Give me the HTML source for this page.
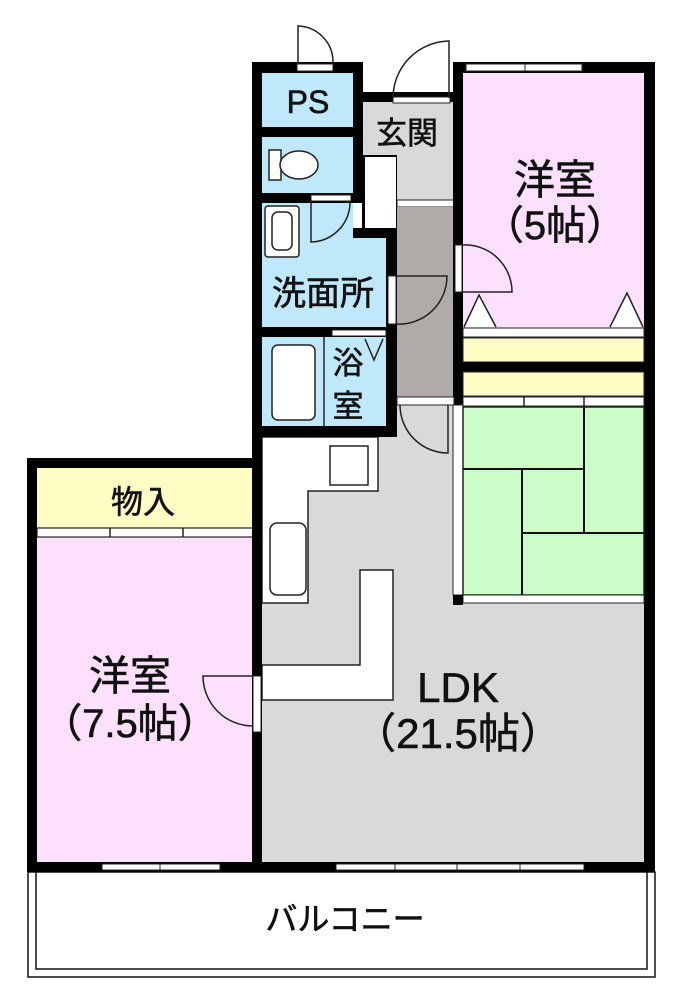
<!DOCTYPE html>
<html><head><meta charset="utf-8"><style>
html,body{margin:0;padding:0;background:#fff;width:682px;height:1000px;overflow:hidden}
text{font-family:"Liberation Sans","Noto Sans CJK JP",sans-serif;fill:#111;text-anchor:middle}
</style></head><body>
<svg width="682" height="1000" viewBox="0 0 682 1000" xmlns="http://www.w3.org/2000/svg">
<rect x="28" y="872" width="627" height="105" fill="#fff" stroke="#111" stroke-width="1.5"/>
<rect x="36" y="872" width="611" height="97" fill="#fff" stroke="#111" stroke-width="1.5"/>
<rect x="262" y="405" width="382" height="458" fill="#d9d9d9"/>
<path d="M262 437 H378 V491 H308 V603 H262 Z" fill="#fff" stroke="#222" stroke-width="1.5"/>
<rect x="330" y="446" width="38" height="39" fill="#fff" stroke="#222" stroke-width="1.5"/>
<rect x="270" y="523" width="36" height="72" rx="7" fill="#fff" stroke="#222" stroke-width="1.5"/>
<path d="M262 665 H360 V570 H393 V700 H262 Z" fill="#fff" stroke="#222" stroke-width="1.5"/>
<rect x="37" y="468" width="216" height="60" fill="#fffcc4"/>
<rect x="37" y="537" width="216" height="326" fill="#fde0fc"/>
<rect x="37" y="528" width="216" height="9" fill="#fff" stroke="#222" stroke-width="1.2"/>
<line x1="110" y1="528" x2="110" y2="537" stroke="#222" stroke-width="1.5"/>
<line x1="183" y1="528" x2="183" y2="537" stroke="#222" stroke-width="1.5"/>
<rect x="27" y="458" width="235" height="10" fill="#000"/>
<rect x="27" y="458" width="10" height="414" fill="#000"/>
<rect x="252" y="62" width="10" height="810" fill="#000"/>
<rect x="27" y="862" width="628" height="10" fill="#000"/>
<rect x="102" y="864" width="118" height="6" fill="#fff" stroke="#222" stroke-width="1"/>
<line x1="160" y1="864" x2="160" y2="870" stroke="#222"/>
<rect x="336" y="864" width="248" height="6" fill="#fff" stroke="#222" stroke-width="1"/>
<line x1="395" y1="864" x2="395" y2="870" stroke="#222"/>
<line x1="457" y1="864" x2="457" y2="870" stroke="#222"/>
<line x1="520" y1="864" x2="520" y2="870" stroke="#222"/>
<rect x="253" y="676" width="8" height="56" fill="#fff" stroke="#222" stroke-width="1"/>
<path d="M253 676 H203 A50 50 0 0 0 253 726" fill="none" stroke="#222" stroke-width="1.5"/>
<rect x="262" y="73" width="92" height="55" fill="#bfe8fb"/>
<rect x="262" y="137" width="92" height="57" fill="#bfe8fb"/>
<path d="M262 203 H353 V238 H386 V327 H262 Z" fill="#bfe8fb"/>
<rect x="262" y="337" width="124" height="89" fill="#bfe8fb"/>
<rect x="252" y="62" width="110" height="11" fill="#000"/>
<rect x="297" y="64" width="36" height="7" fill="#fff" stroke="#222"/>
<path d="M298 64 V26 A36 36 0 0 1 333 62" fill="none" stroke="#222" stroke-width="1.5"/>
<rect x="353" y="62" width="10" height="140" fill="#000"/>
<rect x="252" y="127" width="110" height="10" fill="#000"/>
<rect x="252" y="193" width="110" height="10" fill="#000"/>
<rect x="311" y="195" width="40" height="6" fill="#fff" stroke="#222"/>
<path d="M311 201 V242 A40 40 0 0 0 350 203" fill="none" stroke="#222" stroke-width="1.5"/>
<rect x="269" y="150" width="12" height="30" fill="#fff" stroke="#222" stroke-width="1.5"/>
<ellipse cx="299" cy="165" rx="19" ry="14" fill="#fff" stroke="#222" stroke-width="1.5"/>
<rect x="265" y="206" width="34" height="51" rx="3" fill="#fff" stroke="#222" stroke-width="1.5"/>
<rect x="272" y="212" width="20" height="38" rx="6" fill="#fff" stroke="#222" stroke-width="1.5"/>
<!-- genkan -->
<rect x="363" y="100" width="91" height="100" fill="#d9d9d9"/>
<rect x="397" y="200" width="57" height="7" fill="#fff" stroke="#222"/>
<rect x="397" y="207" width="57" height="190" fill="#b0aaa9"/>
<rect x="353" y="92" width="101" height="10" fill="#000"/>
<rect x="393" y="97" width="57" height="6" fill="#fff" stroke="#222"/>
<path d="M393 98 A57 57 0 0 1 449 41 V98" fill="none" stroke="#222" stroke-width="1.5"/>
<!-- white box -->
<rect x="362" y="155" width="35" height="74" fill="#000"/>
<rect x="365" y="157" width="31" height="71" fill="#fff"/>
<rect x="386" y="228" width="11" height="209" fill="#000"/>
<rect x="353" y="228" width="44" height="10" fill="#000"/>
<rect x="252" y="327" width="145" height="10" fill="#000"/>
<rect x="332" y="330" width="54" height="6" fill="#fff" stroke="#222"/>
<rect x="252" y="426" width="145" height="11" fill="#000"/>
<rect x="272" y="345" width="43" height="75" rx="6" fill="#fff" stroke="#222" stroke-width="1.5"/>
<line x1="324" y1="337" x2="324" y2="426" stroke="#222" stroke-width="1.5"/>
<path d="M365 339 L374 360 L383 339" fill="none" stroke="#222" stroke-width="1.5"/>
<rect x="388" y="276" width="8" height="48" fill="#fff" stroke="#222"/>
<path d="M396 276 H447 A48 48 0 0 1 396 324" fill="none" stroke="#222" stroke-width="1.5"/>
<rect x="463" y="73" width="181" height="255" fill="#fde0fc"/>
<rect x="453" y="62" width="202" height="11" fill="#000"/>
<rect x="466" y="64" width="116" height="7" fill="#fff" stroke="#222"/>
<line x1="525" y1="64" x2="525" y2="71" stroke="#222"/>
<rect x="453" y="62" width="10" height="543" fill="#000"/>
<rect x="644" y="62" width="11" height="810" fill="#000"/>
<rect x="455" y="245" width="7" height="47" fill="#fff" stroke="#222"/>
<path d="M462 245 A47 47 0 0 1 512 292 H462" fill="none" stroke="#222" stroke-width="1.5"/>
<path d="M464 327 L479 295 L496 327" fill="#fff" stroke="#222" stroke-width="1.5"/>
<path d="M610 327 L627 293 L643 327" fill="#fff" stroke="#222" stroke-width="1.5"/>
<rect x="463" y="328" width="181" height="9" fill="#fff" stroke="#222"/>
<rect x="463" y="338" width="181" height="24" fill="#fffcc4" stroke="#222"/>
<rect x="453" y="362" width="202" height="10" fill="#000"/>
<rect x="463" y="372" width="181" height="24" fill="#fffcc4" stroke="#222"/>
<rect x="463" y="397" width="181" height="9" fill="#fff" stroke="#222"/>
<line x1="524" y1="397" x2="524" y2="406" stroke="#222" stroke-width="1.5"/>
<line x1="584" y1="397" x2="584" y2="406" stroke="#222" stroke-width="1.5"/>
<rect x="453" y="405" width="10" height="190" fill="#fff" stroke="#222"/>
<rect x="463" y="407" width="181" height="188" fill="#ccfcc8" stroke="#222" stroke-width="1.5"/>
<g stroke="#111" stroke-width="2">
<line x1="463" y1="469" x2="584" y2="469"/>
<line x1="584" y1="407" x2="584" y2="533"/>
<line x1="522" y1="469" x2="522" y2="595"/>
<line x1="522" y1="533" x2="644" y2="533"/>
</g>
<rect x="453" y="595" width="10" height="10" fill="#000"/>
<rect x="463" y="595" width="181" height="8" fill="#fff" stroke="#222"/>
<rect x="397" y="397" width="57" height="8" fill="#fff" stroke="#222"/>
<path d="M400 405 A48 48 0 0 0 448 453 V405" fill="none" stroke="#222" stroke-width="1.5"/>
<g stroke="#111" stroke-width="0.6">
<text x="308" y="113" font-size="32">PS</text>
<text x="407" y="144" font-size="31">玄関</text>
<text x="555" y="194" font-size="41">洋室</text>
<text x="555" y="239" font-size="40">（5帖）</text>
<text x="323" y="305" font-size="34">洗面所</text>
<text x="348" y="374" font-size="31">浴</text>
<text x="348" y="417" font-size="31">室</text>
<text x="143" y="513" font-size="32">物入</text>
<text x="130" y="690" font-size="41">洋室</text>
<text x="130" y="737" font-size="40">（7.5帖）</text>
<text x="458" y="702" font-size="42">LDK</text>
<text x="458" y="748" font-size="42">（21.5帖）</text>
<text x="345" y="930" font-size="32">バルコニー</text>
</g>
</svg>
</body></html>
